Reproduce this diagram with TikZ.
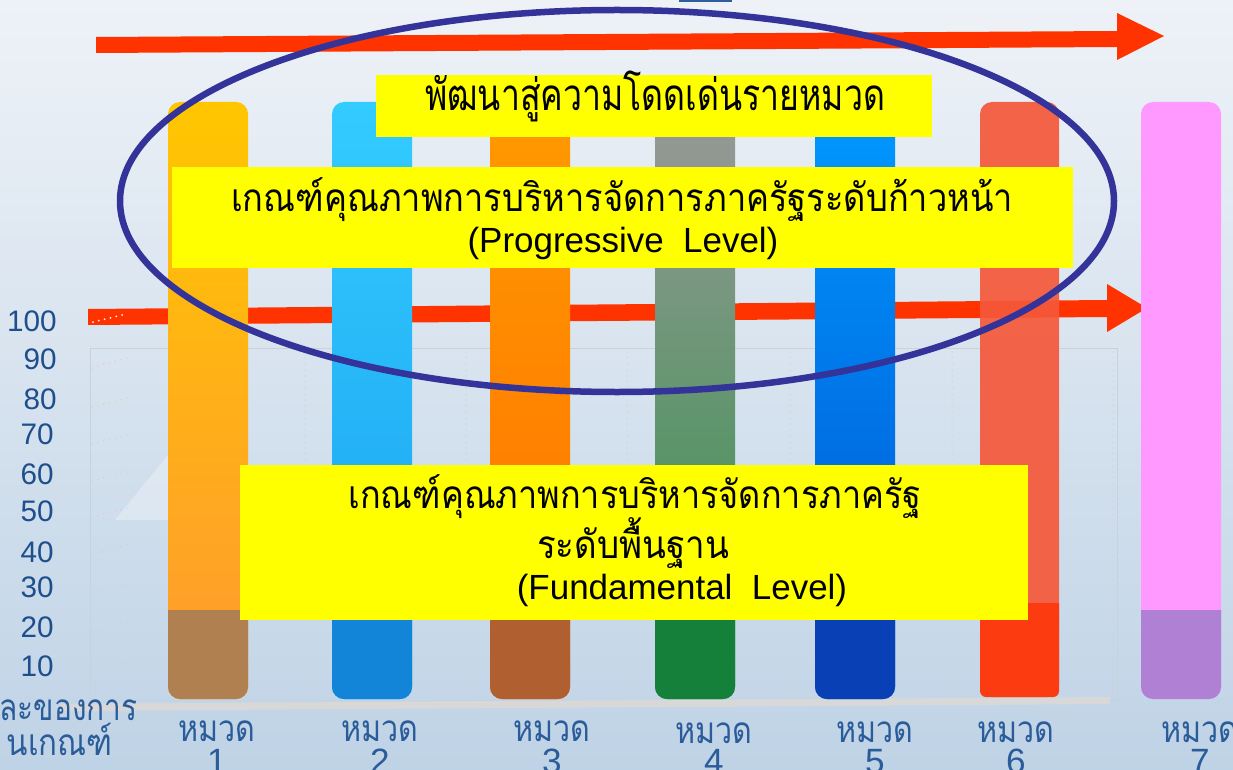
\documentclass[tikz,border=0pt]{standalone}
\usepackage{fontspec}
\usepackage{graphicx}
\setmainfont{Liberation Sans}
\newfontfamily\thai[Script=Thai]{Loma}
\newlength\px
\setlength\px{0.02cm}
\newcommand\fitto[2]{\resizebox{#1\px}{\height}{#2}}
\definecolor{bgtop}{HTML}{EEF2F7}
\definecolor{bgbot}{HTML}{BFD3E6}
\definecolor{framegray}{HTML}{C9D2DC}
\definecolor{gridc}{HTML}{D9CFC6}
\definecolor{floorgray}{HTML}{D8D8D8}
\definecolor{arrowred}{HTML}{FF3300}
\definecolor{ellblue}{HTML}{333399}
\definecolor{yellowbox}{HTML}{FFFF00}
\definecolor{axisblue}{HTML}{1F4E8C}
\definecolor{catblue}{HTML}{2B5C9A}
\definecolor{tabblue}{HTML}{2E5E9E}
\definecolor{bA}{HTML}{FFC600}\definecolor{bAb}{HTML}{FF9A30}\definecolor{bAl}{HTML}{B08050}
\definecolor{bB}{HTML}{33CCFF}\definecolor{bBb}{HTML}{1AA0F0}\definecolor{bBl}{HTML}{1285D8}
\definecolor{bC}{HTML}{FF9A00}\definecolor{bCb}{HTML}{FF7000}\definecolor{bCl}{HTML}{B05F30}
\definecolor{bD}{HTML}{999999}\definecolor{bDb}{HTML}{2F9247}\definecolor{bDl}{HTML}{15803A}
\definecolor{bE}{HTML}{0099FF}\definecolor{bEb}{HTML}{0052D2}\definecolor{bEl}{HTML}{0A40B5}
\definecolor{bF}{HTML}{F5583A}\definecolor{bFl}{HTML}{FC3C10}
\definecolor{bG}{HTML}{FF99FF}\definecolor{bGl}{HTML}{B080D5}
\newcommand\chartbar[5]{%
  \shade[#3, rounded corners=0.24cm] (#1,102) rectangle (#2,699);
  \begin{scope}
    \clip (#1,#4) rectangle (#2,705);
    \fill[#5, rounded corners=0.24cm] (#1,102) rectangle (#2,699);
  \end{scope}}
\tikzset{
  ybox/.style={fill=yellowbox, draw=none, inner sep=0pt},
  boxtxt/.style={anchor=base, inner sep=0pt, text=black},
  axislbl/.style={anchor=base east, inner sep=0pt, text=axisblue, font=\fontsize{16.9pt}{20pt}\selectfont},
  catlbl/.style={anchor=base, inner sep=0pt, text=catblue},
  catnum/.style={anchor=base, inner sep=0pt, text=catblue, font=\fontsize{20pt}{24pt}\selectfont},
  redarrow/.style={fill=arrowred, draw=none},
  gridline/.style={gridc, line width=1.5\px, line cap=round, dash pattern=on 0pt off 6\px},
}
\begin{document}
\begin{tikzpicture}[x=0.02cm,y=-0.02cm]
\useasboundingbox (0,0) rectangle (1233,770);
\clip (0,0) rectangle (1233,770);
% background
\shade[top color=bgtop, bottom color=bgbot] (0,0) rectangle (1233,770);
\fill[white, opacity=0.3] (115,520) -- (168,520) -- (168,455) -- cycle;
\fill[tabblue] (679,0) rectangle (732,2.5);
% chart frame and grid
\draw[framegray, line width=1\px] (90,348) rectangle (1117,700);
\foreach \ya/\yb in {368/358,407/398,444/435,481/472,517/508,554/545,593/584,631/622,672/663}
  \draw[gridline] (92,\ya) -- (127,\yb);
\foreach \xx in {305,466,627,790,952,1113}
  \draw[gridline] (\xx,352) -- (\xx,697);
% floor
\fill[floorgray] (60,704) -- (1110,697) -- (1110,704) -- (60,711) -- cycle;
% middle arrow
\fill[redarrow] (88,309) -- (1107,300) -- (1107,284) -- (1147,308) -- (1107,332) -- (1107,317) -- (88,325) -- cycle;
\draw[white, line width=2\px, line cap=round, dash pattern=on 0pt off 6\px] (93,322) -- (126,314);
% bars
\chartbar{168}{248}{top color=bA, bottom color=bAb}{610}{bAl}
\chartbar{332}{412}{top color=bB, bottom color=bBb}{615}{bBl}
\chartbar{490}{570}{top color=bC, bottom color=bCb}{615}{bCl}
\chartbar{655}{735}{top color=bD, bottom color=bDb}{615}{bDl}
\chartbar{815}{895}{top color=bE, bottom color=bEb}{615}{bEl}
\fill[bF, fill opacity=0.92, rounded corners=0.24cm] (980,102) rectangle (1059,697);
\begin{scope}
  \clip (980,603) rectangle (1059,705);
  \fill[bFl, rounded corners=0.12cm] (980,102) rectangle (1059,697);
\end{scope}
\chartbar{1141}{1221}{top color=bG, bottom color=bG}{610}{bGl}
% top arrow
\fill[redarrow] (96,37) -- (1117,31) -- (1117,13) -- (1164,36) -- (1117,60) -- (1117,47) -- (96,53) -- cycle;
% yellow boxes
\node[ybox, minimum width=556\px, minimum height=62\px] (boxA) at (654,106) {};
\node[boxtxt] (txtA) at (655,111) {\fitto{460}{\fontsize{25pt}{29pt}\thai พัฒนาสู่ความโดดเด่นรายหมวด}};
\node[ybox, minimum width=901\px, minimum height=101\px] (boxB) at (622.5,217.5) {};
\node[boxtxt] (txtB1) at (622,212) {\fitto{782}{\fontsize{22pt}{26pt}\thai เกณฑ์คุณภาพการบริหารจัดการภาครัฐระดับก้าวหน้า}};
\node[boxtxt] (txtB2) at (623,253) {\fontsize{19.9pt}{24pt}\selectfont (Progressive\ \ Level)};
\node[ybox, minimum width=788\px, minimum height=155\px] (boxC) at (634,542.5) {};
\node[boxtxt] (txtC1) at (635,508) {\fitto{573}{\fontsize{22pt}{26pt}\thai เกณฑ์คุณภาพการบริหารจัดการภาครัฐ}};
\node[boxtxt] (txtC2) at (633,558) {\fitto{192}{\fontsize{22pt}{26pt}\thai ระดับพื้นฐาน}};
\node[boxtxt] (txtC3) at (682,599) {\fontsize{19.9pt}{24pt}\selectfont (Fundamental\ \ Level)};
% ellipse
\draw[ellblue, line width=6.5\px] (617,201) ellipse [x radius=497\px, y radius=191\px];
% y axis labels
\node[axislbl] (y100) at (57,331) {100};
\node[axislbl] (y90) at (57,369.5) {90};
\node[axislbl] (y80) at (57,409) {80};
\node[axislbl] (y70) at (54,444) {70};
\node[axislbl] (y60) at (54,484) {60};
\node[axislbl] (y50) at (54,521) {50};
\node[axislbl] (y40) at (54,562) {40};
\node[axislbl] (y30) at (54,597.5) {30};
\node[axislbl] (y20) at (54,637) {20};
\node[axislbl] (y10) at (54,676) {10};
% axis title (cut off at left edge)
\node[catlbl, anchor=base east] (ax1) at (138,720) {\fitto{138}{\fontsize{21pt}{24pt}\thai ละของการ}};
\node[catlbl, anchor=base east] (ax2) at (113,755) {\fitto{106}{\fontsize{21pt}{24pt}\thai นเกณฑ์}};
% category labels
\foreach \n/\cx/\by in {1/217/741,2/380/741,3/552/741,4/714/743,5/875/742,6/1016/742,7/1200/742}{
  \node[catlbl] (cat\n) at (\cx,\by) {\fitto{77}{\fontsize{21pt}{24pt}\thai หมวด}};
  \node[catnum] (num\n) at (\cx,773) {\n};
}
\end{tikzpicture}
\end{document}
